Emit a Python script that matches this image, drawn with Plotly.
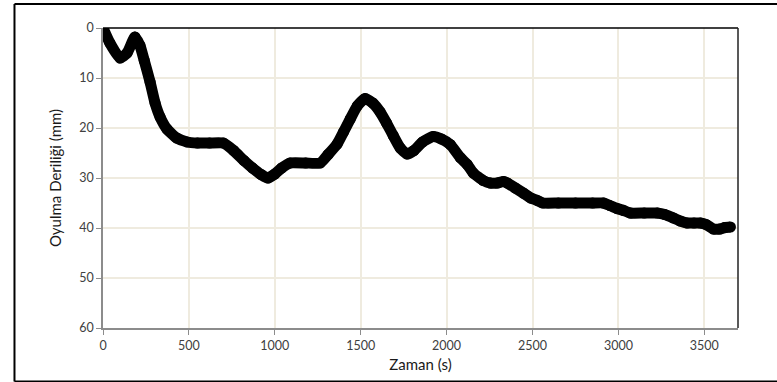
import plotly.graph_objects as go

# Time (s)
zaman = [0, 40, 99, 140, 186, 215, 240, 274, 303, 332,
         372, 429, 490, 550, 620, 700, 760, 820, 870, 920,
         960, 1000, 1040, 1089, 1180, 1264, 1310, 1363, 1400, 1439,
         1480, 1526, 1570, 1613, 1650, 1689, 1730, 1770, 1810, 1860,
         1922, 1970, 2021, 2079, 2120, 2155, 2213, 2254, 2295, 2331,
         2353, 2400, 2446, 2490, 2528, 2560, 2650, 2750, 2850, 2912,
         2950, 2992, 3030, 3069, 3150, 3226, 3270, 3320, 3360, 3400,
         3440, 3477, 3510, 3553, 3590, 3620, 3652]
# Scour depth (mm)
derinlik = [0, 3, 6, 5, 1.8, 3.5, 6.5, 10.8, 15, 17.8,
            20.2, 22, 22.8, 23, 23, 23, 24.5, 26.5, 28, 29.3,
            30, 29.2, 28, 27, 27, 27, 25.3, 23.2, 20.8, 18.2,
            15.6, 14.1, 15, 16.8, 19, 21.5, 24, 25.2, 24.5, 22.8,
            21.7, 22.2, 23.3, 25.9, 27.3, 29, 30.5, 31, 31, 30.7,
            31, 32, 33, 34, 34.5, 35, 35, 35, 35, 35,
            35.5, 36.1, 36.5, 37, 37, 37, 37.3, 38, 38.6, 39,
            39, 39, 39.3, 40.2, 40.2, 39.9, 39.8]

x_ticks = [0, 500, 1000, 1500, 2000, 2500, 3000, 3500]
y_ticks = [0, 10, 20, 30, 40, 50, 60]

FONT = "Lato"
grid = "#EFEBDF"
axis_gray = "#8C8C8C"

fig = go.Figure()
fig.add_trace(go.Scatter(
    x=zaman, y=derinlik, mode="lines+markers",
    line=dict(color="black", width=11, shape="spline", smoothing=0.5),
    marker=dict(color="black", size=11),
    showlegend=False, hoverinfo="x+y"))

X0, X1, Y0, Y1 = -0.1394, 1.2, -0.178, 1.08
border = dict(color="black", width=2)
fig.update_layout(
    width=777, height=382,
    margin=dict(l=103, r=39, t=28, b=54),
    paper_bgcolor="white", plot_bgcolor="white",
    font=dict(family=FONT, size=12.5, color="#595959"),
    xaxis=dict(range=[0, 3696], tickvals=x_ticks, ticktext=[str(v) for v in x_ticks],
               showgrid=True, gridcolor=grid, gridwidth=1.5,
               showline=True, linecolor=axis_gray, linewidth=1.5,
               ticks="outside", ticklen=5, tickcolor=axis_gray,
               tickfont=dict(family=FONT, size=12.5, color="#404040"),
               zeroline=False,
               title=dict(text="Zaman (s)", standoff=8,
                          font=dict(family=FONT, size=15, color="#1a1a1a"))),
    yaxis=dict(range=[60, 0], tickvals=y_ticks, ticktext=[str(v) for v in y_ticks],
               showgrid=True, gridcolor=grid, gridwidth=1.5,
               showline=True, linecolor=axis_gray, linewidth=1.5,
               ticks="outside", ticklen=5, tickcolor=axis_gray,
               tickfont=dict(family=FONT, size=12.5, color="#404040"),
               zeroline=False,
               title=dict(text="Oyulma Deriliği (mm)", standoff=14,
                          font=dict(family=FONT, size=15, color="#1a1a1a"))),
    shapes=[
        # plot area border (top, right)
        dict(type="line", xref="paper", yref="paper", x0=0, x1=1, y0=1, y1=1,
             line=dict(color="black", width=1.5), layer="above"),
        dict(type="line", xref="paper", yref="paper", x0=1, x1=1, y0=0, y1=1,
             line=dict(color="#222222", width=1.5), layer="above"),
        # outer chart border (top, left, bottom; right side lies outside the picture)
        dict(type="line", xref="paper", yref="paper", x0=X0, x1=X1, y0=Y1, y1=Y1, line=border),
        dict(type="line", xref="paper", yref="paper", x0=X0, x1=X0, y0=Y0, y1=Y1, line=border),
        dict(type="line", xref="paper", yref="paper", x0=X0, x1=X1, y0=Y0, y1=Y0, line=border),
    ],
)

fig.write_html("out.html", config={"displayModeBar": False},
               post_script="document.body.style.margin='0';document.body.style.overflow='hidden';")
